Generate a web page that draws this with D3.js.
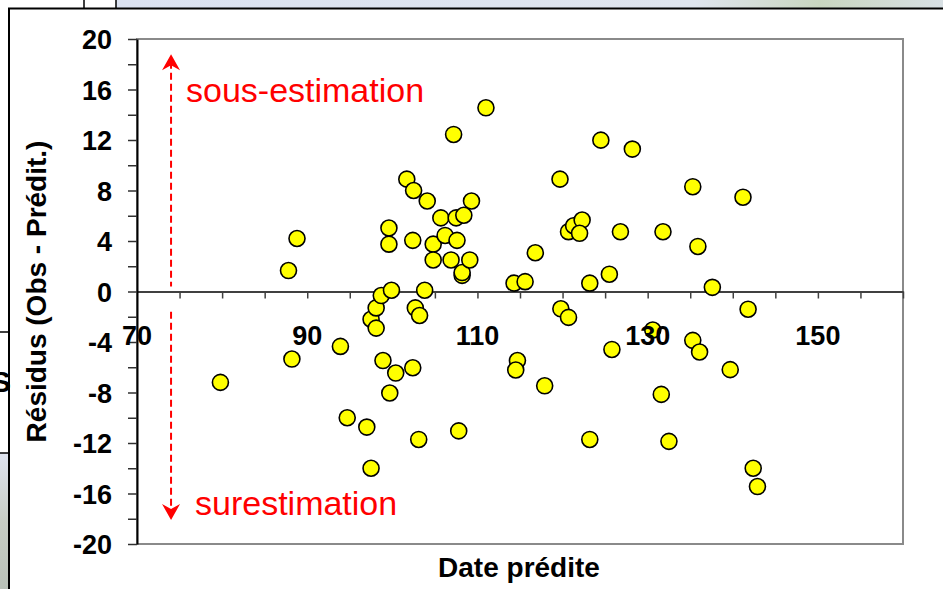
<!DOCTYPE html>
<meta charset="utf-8">
<style>

    body {
        margin: 0;
        background: #fff;
    }

    text {
        font-family: "Liberation Sans", Arial, sans-serif;
    }

    .tick text {
        font-size: 27px;
        font-weight: bold;
        fill: #000;
    }

</style>
<body>
<div id="main"></div>
<script src="https://cdn.jsdelivr.net/npm/d3@7"></script>
<script>

    // Date prédite (x) and résidus (y)
    var predicted = [79.8, 87.8, 88.8, 88.2, 93.9, 94.7, 97.0, 97.5, 97.5, 98.1,
                     98.1, 98.7, 99.9, 99.6, 99.6, 98.9, 100.4, 99.7, 102.4, 103.1,
                     102.7, 103.2, 103.8, 101.7, 102.5, 104.1, 102.4, 104.8, 104.8, 105.7,
                     106.2, 106.9, 107.5, 108.4, 107.6, 108.2, 108.2, 109.1, 109.3, 107.2,
                     111.0, 107.8, 114.3, 115.6, 116.8, 114.7, 114.5, 117.9, 119.7, 119.8,
                     120.7, 120.7, 121.3, 122.3, 122.0, 124.5, 128.2, 123.2, 125.5, 126.8,
                     125.8, 123.2, 130.6, 131.8, 131.6, 132.5, 135.3, 135.9, 137.6, 135.3,
                     136.1, 139.7, 141.2, 141.8, 142.4, 142.9];
    var residual  = [-7.2, 1.66, 4.2, -5.35, -4.35, -10.0, -10.74, -14.0, -2.2, -1.3,
                     -2.9, -0.32, 0.1, 5.03, 3.75, -5.47, -6.46, -8.04, -6.04, -11.72,
                     -1.3, -1.9, 0.1, 8.9, 8.0, 7.17, 4.05, 3.75, 2.5, 5.83,
                     4.44, 2.5, 5.83, 6.04, 4.05, 1.28, 1.5, 2.5, 7.17, 12.44,
                     14.55, -11.04, 0.66, 0.78, 3.07, -5.47, -6.22, -7.47, 8.9, -1.37,
                     -2.05, 4.74, 5.21, 5.66, 4.61, 11.99, 11.28, 0.66, 1.37, 4.73,
                     -4.59, -11.72, -3.05, 4.73, -8.15, -11.87, 8.3, 3.57, 0.33, -3.87,
                     -4.79, -6.19, 7.47, -1.4, -14.0, -15.45];

    var yTicks = d3.range(-20, 21, 2);
    var xTicks = d3.range(75, 161, 5);
    var xLabels = [70, 90, 110, 130, 150];

    var W = 943, H = 589;
    var plotLeft = 137, plotTop = 39, plotRight = 903, plotBottom = 544;

    var svg = d3.select("#main").append("svg")
            .attr("width", W)
            .attr("height", H);

    // slide leftovers around the white panel
    var defs = svg.append("defs");
    var g1 = defs.append("linearGradient").attr("id", "topstrip");
    g1.append("stop").attr("offset", "0%").attr("stop-color", "#dbe2f1");
    g1.append("stop").attr("offset", "70%").attr("stop-color", "#dfe5ee");
    g1.append("stop").attr("offset", "85%").attr("stop-color", "#c9d6c0");
    g1.append("stop").attr("offset", "100%").attr("stop-color", "#d8e0e4");
    var g2 = defs.append("linearGradient").attr("id", "leftstrip")
            .attr("x1", 0).attr("y1", 0).attr("x2", 0).attr("y2", 1);
    g2.append("stop").attr("offset", "0%").attr("stop-color", "#dfe3ef");
    g2.append("stop").attr("offset", "50%").attr("stop-color", "#c7cdc4");
    g2.append("stop").attr("offset", "100%").attr("stop-color", "#b9c1b8");

    svg.append("rect").attr("x", 116).attr("y", 0).attr("width", W - 116).attr("height", 8)
            .attr("fill", "url(#topstrip)");
    svg.append("rect").attr("x", 0).attr("y", 453).attr("width", 9).attr("height", H - 453)
            .attr("fill", "url(#leftstrip)");
    svg.append("path")
            .attr("d", "M84,0V8M116,0V8M0,332H9M0,453H9")
            .attr("stroke", "#000").attr("stroke-width", 1.5).attr("fill", "none");
    svg.append("text").attr("x", -9).attr("y", 392)
            .style("font-size", "30px").style("font-weight", "bold").text("S");
    svg.append("path")
            .attr("d", "M9," + H + "V8.5H" + W)
            .attr("stroke", "#000").attr("stroke-width", 2).attr("fill", "none");

    var x = d3.scaleLinear().domain([70, 160]).range([plotLeft, plotRight]);
    var y = d3.scaleLinear().domain([-20, 20]).range([plotBottom, plotTop]);

    // plot frame
    svg.append("rect")
            .attr("x", plotLeft).attr("y", plotTop)
            .attr("width", plotRight - plotLeft).attr("height", plotBottom - plotTop)
            .attr("fill", "none").attr("stroke", "#8a8a8a").attr("stroke-width", 2);

    var yAxis = d3.axisLeft(y)
            .tickValues(yTicks)
            .tickSize(9)
            .tickSizeOuter(0)
            .tickPadding(16)
            .tickFormat(function(d) { return d % 4 === 0 ? String(d) : ""; });

    var xAxis = d3.axisBottom(x)
            .tickValues(xTicks)
            .tickSize(7)
            .tickSizeOuter(0)
            .tickFormat("");

    var gx = svg.append("g")
            .attr("transform", "translate(0," + y(0) + ")")
            .call(xAxis);
    gx.select(".domain").attr("stroke", "#404040").attr("stroke-width", 2);
    gx.selectAll(".tick line").attr("stroke", "#404040").attr("stroke-width", 1.5);

    var gy = svg.append("g")
            .attr("transform", "translate(" + plotLeft + ",0)")
            .call(yAxis);
    gy.select(".domain").attr("stroke", "#000").attr("stroke-width", 2);
    gy.selectAll(".tick line").attr("stroke", "#303030").attr("stroke-width", 1.5);
    gy.selectAll(".tick text").attr("dy", "0.36em");

    // points
    svg.append("g").selectAll("circle")
            .data(predicted.map(function(d, i) { return [d, residual[i]]; }))
            .enter().append("circle")
            .attr("cx", function(d) { return x(d[0]); })
            .attr("cy", function(d) { return y(d[1]); })
            .attr("r", 8)
            .attr("fill", "#ffff00")
            .attr("stroke", "#000")
            .attr("stroke-width", 1.6);

    // x labels sit below the zero line
    svg.append("g").selectAll("text")
            .data(xLabels)
            .enter().append("text")
            .attr("x", function(d) { return x(d); })
            .attr("y", y(0) + 53)
            .attr("text-anchor", "middle")
            .style("font-size", "27px")
            .style("font-weight", "bold")
            .text(function(d) { return d; });

    // axis titles
    svg.append("text")
            .attr("x", (plotLeft + plotRight) / 2 - 1)
            .attr("y", 577)
            .attr("text-anchor", "middle")
            .style("font-size", "28px")
            .style("font-weight", "bold")
            .text("Date prédite");

    svg.append("text")
            .attr("transform", "translate(46," + (plotTop + plotBottom) / 2 + ") rotate(-90)")
            .attr("text-anchor", "middle")
            .style("font-size", "28px")
            .style("font-weight", "bold")
            .text("Résidus (Obs - Prédit.)");

    // red annotations
    var red = "#ff0000";
    var ax = x(74);
    svg.append("line")
            .attr("x1", ax).attr("x2", ax)
            .attr("y1", y(18.2)).attr("y2", y(0.4))
            .attr("stroke", red).attr("stroke-width", 2).attr("stroke-dasharray", "7,4");
    svg.append("path")
            .attr("d", "M" + ax + "," + y(18.8) + "l-9,16l9,-5l9,5z")
            .attr("fill", red);
    svg.append("line")
            .attr("x1", ax).attr("x2", ax)
            .attr("y1", y(-1.6)).attr("y2", y(-17.8))
            .attr("stroke", red).attr("stroke-width", 2).attr("stroke-dasharray", "7,4");
    svg.append("path")
            .attr("d", "M" + ax + "," + y(-18.1) + "l-9,-16l9,5l9,-5z")
            .attr("fill", red);

    svg.append("text")
            .attr("x", 186).attr("y", 102)
            .style("font-size", "34px")
            .style("fill", red)
            .text("sous-estimation");
    svg.append("text")
            .attr("x", 195).attr("y", 515)
            .style("font-size", "34px")
            .style("fill", red)
            .text("surestimation");

</script>
